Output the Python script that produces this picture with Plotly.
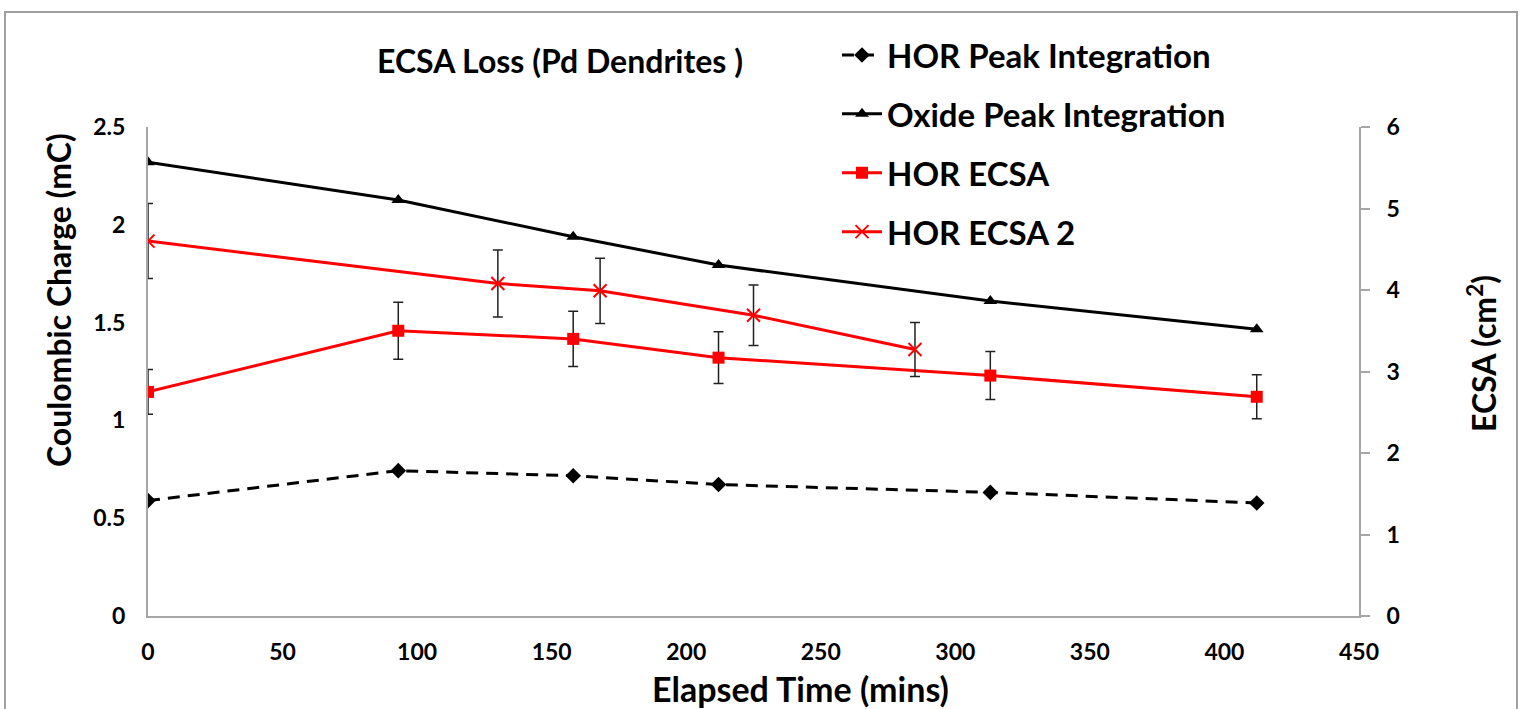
import plotly.graph_objects as go

# ---- data ----
time_main = [0, 93, 158, 212, 313, 412]
hor_peak = [0.59, 0.743, 0.717, 0.672, 0.632, 0.578]
oxide_peak = [2.32, 2.127, 1.939, 1.794, 1.610, 1.466]
hor_ecsa = [2.75, 3.50, 3.40, 3.17, 2.95, 2.69]
hor_ecsa_err = [0.275, 0.35, 0.34, 0.317, 0.295, 0.269]

time_ecsa2 = [0, 130, 168, 225, 285]
hor_ecsa2 = [4.60, 4.08, 3.99, 3.69, 3.27]
hor_ecsa2_err = [0.46, 0.41, 0.40, 0.37, 0.33]

x_ticks = [0, 50, 100, 150, 200, 250, 300, 350, 400, 450]
y1_ticks = [0, 0.5, 1, 1.5, 2, 2.5]
y1_labels = ["0", "0.5", "1", "1.5", "2", "2.5"]
y2_ticks = [0, 1, 2, 3, 4, 5, 6]

FONT = "Lato"
RED = "#ff0000"

fig = go.Figure()

fig.add_trace(go.Scatter(
    x=time_main, y=hor_peak, name="HOR Peak Integration", mode="lines+markers",
    line=dict(color="black", width=3, dash="12px,8px"),
    marker=dict(symbol="diamond", size=12, color="black"),
    legendgroup="a", yaxis="y"))
fig.add_trace(go.Scatter(
    x=time_main, y=oxide_peak, name="Oxide Peak Integration", mode="lines+markers",
    line=dict(color="black", width=3),
    marker=dict(symbol="triangle-up", size=12, color="black"),
    legendgroup="b", yaxis="y"))
fig.add_trace(go.Scatter(
    x=time_main, y=hor_ecsa, name="HOR ECSA", mode="lines+markers",
    line=dict(color=RED, width=3),
    marker=dict(symbol="square", size=12, color=RED),
    error_y=dict(type="data", array=hor_ecsa_err, visible=True, color="#222222",
                 thickness=1.5, width=5),
    legendgroup="c", yaxis="y2"))
fig.add_trace(go.Scatter(
    x=time_ecsa2, y=hor_ecsa2, name="HOR ECSA 2", mode="lines+markers",
    line=dict(color=RED, width=3),
    marker=dict(symbol="x-thin", size=13, color=RED, line=dict(color=RED, width=2)),
    error_y=dict(type="data", array=hor_ecsa2_err, visible=True, color="#222222",
                 thickness=1.5, width=5),
    legendgroup="d", yaxis="y2"))

L, R, T, B = 148, 163, 127, 93
W, H = 1522, 709
pw, ph = W - L - R, H - T - B


def px(xp):
    return (xp - L) / pw


def py(yp):
    return (H - B - yp) / ph


fig.update_layout(
    width=W, height=H,
    margin=dict(l=L, r=R, t=T, b=B),
    paper_bgcolor="white", plot_bgcolor="white",
    font=dict(family=FONT, color="black"),
    title=dict(text="ECSA Loss (Pd Dendrites )", x=560 / W, xanchor="center",
               y=1 - 62 / H, yanchor="middle",
               font=dict(family=FONT, size=32, color="black", weight="bold")),
    xaxis=dict(range=[0, 450], tickvals=x_ticks, showgrid=False, zeroline=False,
               showline=True, linecolor="#a6a6a6", linewidth=2, ticks="",
               ticklabelstandoff=14,
               tickfont=dict(family=FONT, size=23, weight="bold")),
    yaxis=dict(range=[0, 2.5], tickvals=y1_ticks, ticktext=y1_labels, showgrid=False,
               zeroline=False, showline=True, linecolor="#a6a6a6", linewidth=2,
               ticks="", ticklabelstandoff=16,
               tickfont=dict(family=FONT, size=23, weight="bold")),
    yaxis2=dict(range=[0, 6], tickvals=y2_ticks, overlaying="y", side="right",
                showgrid=False, zeroline=False, showline=True, linecolor="#a6a6a6",
                linewidth=2, ticks="outside", ticklen=9, tickcolor="#a6a6a6",
                tickwidth=2, ticklabelstandoff=12,
                tickfont=dict(family=FONT, size=23, weight="bold")),
    legend=dict(x=px(837), y=py(27), xanchor="left", yanchor="top",
                bgcolor="rgba(0,0,0,0)", tracegroupgap=13, itemwidth=40,
                font=dict(family=FONT, size=33, weight="bold")),
    showlegend=True,
)

# axis titles
fig.add_annotation(text="Elapsed Time (mins)", x=px(800), y=py(688), xref="paper",
                   yref="paper", showarrow=False, xanchor="center", yanchor="middle",
                   font=dict(family=FONT, size=34, weight="bold"))
fig.add_annotation(text="Coulombic Charge (mC)", x=px(58), y=py(300), xref="paper",
                   yref="paper", showarrow=False, textangle=-90, xanchor="center",
                   yanchor="middle", font=dict(family=FONT, size=32, weight="bold"))
fig.add_annotation(text="ECSA (cm<sup>2</sup>)", x=px(1482), y=py(354), xref="paper",
                   yref="paper", showarrow=False, textangle=-90, xanchor="center",
                   yanchor="middle", font=dict(family=FONT, size=32, weight="bold"))

# outer chart border
fig.add_shape(type="rect", xref="paper", yref="paper",
              x0=px(5), x1=px(1517), y0=py(715), y1=py(12),
              line=dict(color="#a0a0a0", width=2), fillcolor="rgba(0,0,0,0)", layer="below")

fig.write_html("out.html", config={"displayModeBar": False},
               post_script="document.body.style.margin='0';")
